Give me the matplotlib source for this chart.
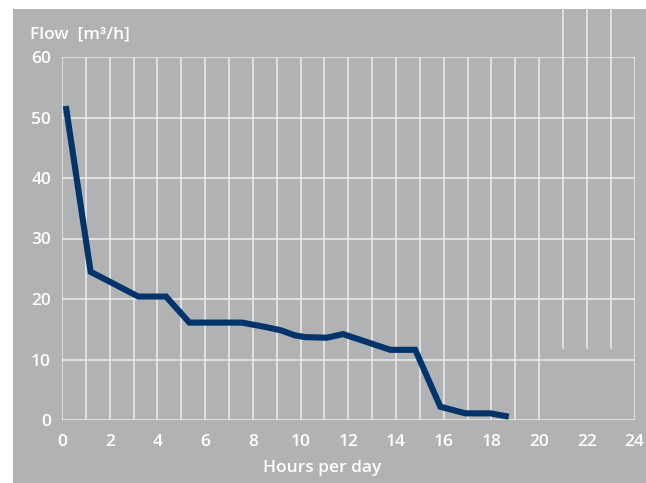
import numpy as np
import matplotlib
matplotlib.use('Agg')
import matplotlib.pyplot as plt
from matplotlib.patches import Rectangle

# flow duration curve
hours = [0.16, 1.2, 3.2, 4.36, 5.34, 7.54, 8.5, 9.2, 9.75, 10.2, 11.1,
         11.78, 13.76, 14.81, 15.86, 16.91, 17.96, 18.73]
flow = [51.9, 24.5, 20.4, 20.4, 16.1, 16.1, 15.4, 14.8, 14.0, 13.7, 13.6,
        14.2, 11.6, 11.6, 2.2, 1.1, 1.1, 0.55]

xticks = list(range(0, 25, 2))
yticks = list(range(0, 61, 10))

bg = '#b1b2b4'
grid = '#ececec'
navy = '#00346b'
plt.rcParams['font.family'] = ['Open Sans', 'DejaVu Sans']
plt.rcParams['font.weight'] = 'semibold'
fs = 12.5

fig = plt.figure(figsize=(6.46, 4.83), dpi=100)
fig.patch.set_facecolor('white')
fig.patches.append(Rectangle((13/646, 0), 1, (483-9)/483, transform=fig.transFigure,
                             facecolor=bg, edgecolor='none', zorder=-10))

ax = fig.add_axes([62/646, (483-420)/483, (634.5-62)/646, (420-57)/483])
ax.set_facecolor('none')
ax.set_xlim(0, 24)
ax.set_ylim(0, 60)
for s in ax.spines.values():
    s.set_visible(False)

# grid (the last three hour lines only show in the upper part)
for h in range(0, 25):
    if 21 <= h <= 23:
        ax.axvline(h, ymin=(420-348)/363, ymax=(420-9)/363, color=grid, lw=1.1,
                   clip_on=False, zorder=1)
    else:
        ax.axvline(h, color=grid, lw=1.1, zorder=1)
for v in yticks:
    ax.axhline(v, color=grid, lw=1.1, zorder=1)

ax.plot(hours, flow, color=navy, lw=4.4, solid_capstyle='butt',
        solid_joinstyle='miter', zorder=3)

ax.set_xticks(xticks)
ax.set_yticks(yticks)
ax.tick_params(length=0, colors='white', labelsize=fs)
ax.tick_params(axis='y', pad=8)
ax.tick_params(axis='x', pad=10)

fig.text(30/646, (483-34)/483, 'Flow  [m³/h]', color='white', fontsize=fs,
         va='center', ha='left')
fig.text(322/646, (483-468)/483, 'Hours per day', color='white', fontsize=fs,
         va='center', ha='center')

fig.savefig('out.png', dpi=100, facecolor=fig.get_facecolor())
